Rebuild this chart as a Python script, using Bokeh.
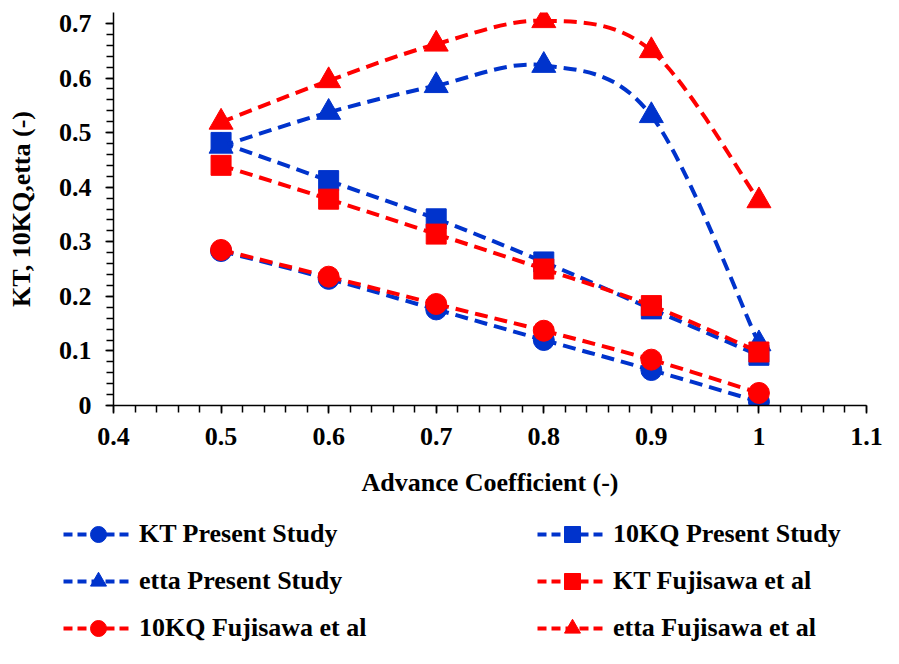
import numpy as np
from bokeh.plotting import figure
from bokeh.layouts import column, row
from bokeh.models import (Range1d, SingleIntervalTicker, NumeralTickFormatter,
                          Legend, LegendItem, ColumnDataSource)
from bokeh.embed import file_html
from bokeh.resources import INLINE

# ---- data ----
advance_coeff = [0.5, 0.6, 0.7, 0.8, 0.9, 1.0]
kt_present = [0.283, 0.232, 0.176, 0.120, 0.065, 0.007]
kq10_present = [0.482, 0.412, 0.342, 0.263, 0.177, 0.092]
etta_present = [0.475, 0.537, 0.586, 0.623, 0.531, 0.113]
kt_fujisawa = [0.440, 0.378, 0.314, 0.250, 0.183, 0.098]
kq10_fujisawa = [0.285, 0.236, 0.186, 0.137, 0.084, 0.023]
etta_fujisawa = [0.519, 0.595, 0.662, 0.705, 0.650, 0.375]

labels = ["KT Present Study", "10KQ Present Study", "etta Present Study",
          "KT Fujisawa et al", "10KQ Fujisawa et al", "etta Fujisawa et al"]

BLUE = "#0033CC"
RED = "#FF0000"
FONT = "Liberation Serif"
DASH = "13 7"
LW = 4


def smooth_segments(xs, ys, t=1.0 / 6.0):
    """Bezier control points for an Excel-style smoothed line through the points."""
    x = np.asarray(xs, float)
    y = np.asarray(ys, float)
    n = len(x)
    xp = np.concatenate([[x[0]], x, [x[-1]]])
    yp = np.concatenate([[y[0]], y, [y[-1]]])
    return dict(
        x0=x[:-1], y0=y[:-1], x1=x[1:], y1=y[1:],
        cx0=x[:-1] + (xp[2:n + 1] - xp[0:n - 1]) * t,
        cy0=y[:-1] + (yp[2:n + 1] - yp[0:n - 1]) * t,
        cx1=x[1:] - (xp[3:n + 2] - xp[1:n]) * t,
        cy1=y[1:] - (yp[3:n + 2] - yp[1:n]) * t,
    )


MAIN_H = 507
LEG_H = 141
W = 883

p = figure(width=W, height=MAIN_H, output_backend="svg", toolbar_location=None,
           x_range=Range1d(0.4, 1.1), y_range=Range1d(0, 0.72),
           min_border_left=113, min_border_right=17, min_border_top=12,
           min_border_bottom=102)
p.outline_line_color = None
p.xgrid.visible = False
p.ygrid.visible = False
p.background_fill_color = "white"
p.border_fill_color = "white"

p.xaxis.ticker = SingleIntervalTicker(interval=0.1, num_minor_ticks=5)
p.yaxis.ticker = SingleIntervalTicker(interval=0.1, num_minor_ticks=5)
for ax in (p.xaxis[0], p.yaxis[0]):
    ax.formatter = NumeralTickFormatter(format="0.[0]")
    ax.axis_line_color = "black"
    ax.axis_line_width = 1.5
    ax.major_tick_line_color = "black"
    ax.minor_tick_line_color = "black"
    ax.major_tick_line_width = 1.5
    ax.minor_tick_line_width = 1.5
    ax.major_tick_in = 0
    ax.major_tick_out = 8
    ax.minor_tick_in = 0
    ax.minor_tick_out = 7
    ax.major_label_text_font = FONT
    ax.major_label_text_font_style = "bold"
    ax.major_label_text_font_size = "26px"
    ax.major_label_text_color = "black"
    ax.major_label_standoff = 14
    ax.axis_label_text_font = FONT
    ax.axis_label_text_font_style = "bold"
    ax.axis_label_text_font_size = "26px"
    ax.axis_label_text_color = "black"
    ax.axis_label_standoff = 20

p.xaxis.axis_label = "Advance Coefficient (-)"
p.yaxis.axis_label = "KT, 10KQ,etta (-)"

series = [
    (kt_present, BLUE, "circle", 21),
    (kq10_present, BLUE, "square", 20),
    (etta_present, BLUE, "triangle", 24),
    (kt_fujisawa, RED, "square", 20),
    (kq10_fujisawa, RED, "circle", 21),
    (etta_fujisawa, RED, "triangle", 24),
]

for ys, color, marker, size in series:
    src = ColumnDataSource(smooth_segments(advance_coeff, ys))
    p.bezier(x0="x0", y0="y0", x1="x1", y1="y1", cx0="cx0", cy0="cy0",
             cx1="cx1", cy1="cy1", source=src, line_color=color,
             line_width=LW, line_dash=DASH)
    p.scatter(advance_coeff, ys, marker=marker, size=size,
              fill_color=color, line_color=color)

# ---- legend strip below the chart (its data lie outside its view,
#      the strip only carries the legend keys) ----
lf = figure(width=W, height=LEG_H, output_backend="svg", toolbar_location=None,
            x_axis_type=None, y_axis_type=None, min_border=0,
            x_range=Range1d(10, 11), y_range=Range1d(10, 11))
lf.outline_line_color = None
lf.xgrid.visible = False
lf.ygrid.visible = False

items = []
for label, (ys, color, marker, size) in zip(labels, series):
    lr = lf.line(advance_coeff, ys, line_color=color, line_width=LW,
                 line_dash="9 5")
    sr = lf.scatter(advance_coeff, ys, marker=marker, fill_color=color,
                    line_color=color, size=size)
    items.append(LegendItem(label=label, renderers=[lr, sr]))


def make_legend(its, loc):
    return Legend(items=its, location=loc, orientation="vertical",
                  glyph_width=70, glyph_height=40, label_standoff=6,
                  spacing=7, padding=0, margin=0,
                  border_line_alpha=0, background_fill_alpha=0,
                  label_text_font=FONT, label_text_font_style="bold",
                  label_text_font_size="26px", label_text_color="black")


lf.add_layout(make_legend([items[0], items[2], items[4]], (63, 0)))
lf.add_layout(make_legend([items[1], items[3], items[5]], (537, 0)))

layout = column(p, row(lf), spacing=0)
open("out.html", "w").write(file_html(layout, INLINE))
